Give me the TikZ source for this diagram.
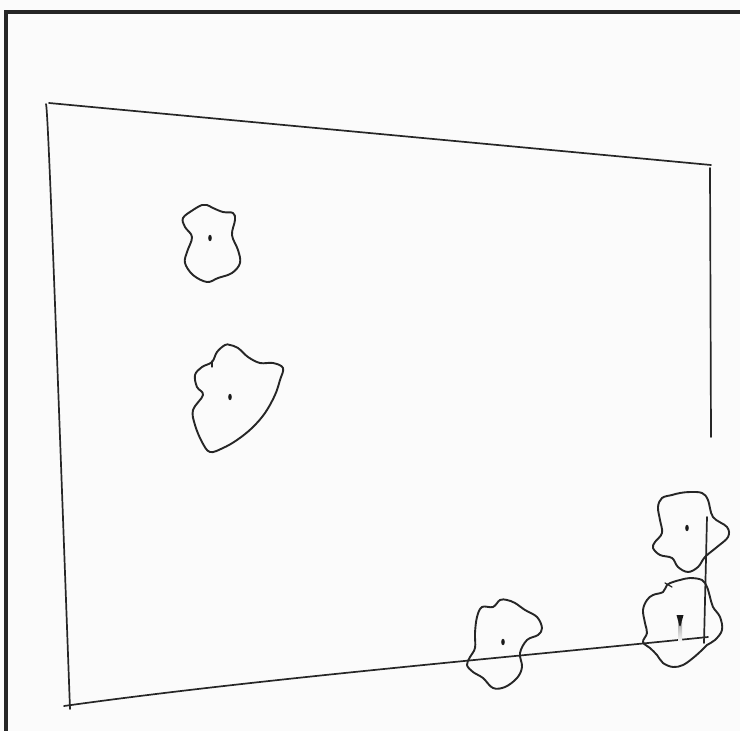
\documentclass[tikz,border=0pt]{standalone}
\usepackage{tikz}

\tikzset{
  pen/.style={line width=1.7pt, line cap=round, line join=round, black!85},
  blob/.style={pen, line width=1.9pt},
  pip/.style={fill=black!90, draw=none}
}

\begin{document}
\begin{tikzpicture}[x=1pt, y=-1pt]
% paper and scan edge
\fill[gray!3] (0,0) rectangle (740,731);
\useasboundingbox (0,0) rectangle (740,731);
\fill[black!85] (4,10) rectangle (740,13.5);
\fill[black!85] (4,10) rectangle (7.5,731);
% outline of the sheet
\draw[pen] (46,104) .. controls (48,110) and (55,300) .. (70,709);
\draw[pen] (49,103) -- (711,165);
\draw[pen] (710,168) -- (711,437);
\draw[pen] (64,706) .. controls (250,680) and (480,660) .. (708,637);
\draw[pen] (707,517) -- (704,643);
% blobs
\draw[blob] plot[smooth cycle, tension=0.6] coordinates {
  (202,205) (193,210) (183,218) (185,227) (192,237) (187,252) (185,263)
  (193,275) (207,282) (218,278) (232,273) (240,263) (238,250) (232,235)
  (235,220) (233,213) (223,212) (213,208) (207,205)};
\draw[blob] plot[smooth cycle, tension=0.6] coordinates {
  (225,345) (217,352) (212,362) (202,367) (195,375) (197,387) (203,395)
  (193,410) (195,425) (202,442) (210,452) (223,448) (237,440) (252,428)
  (265,413) (275,395) (280,380) (283,368) (273,363) (260,363) (248,357)
  (238,348) (230,345)};
\draw[pen, line width=1.2pt] (212,361) -- (212,367);
\draw[blob] plot[smooth cycle, tension=0.6] coordinates {
  (500,600) (493,607) (482,607) (477,617) (475,633) (475,648) (470,657)
  (467,665) (473,672) (483,678) (493,688) (505,687) (517,678) (522,667)
  (520,653) (527,640) (538,635) (542,628) (537,617) (525,610) (515,603)
  (507,600)};
\draw[blob] plot[smooth cycle, tension=0.6] coordinates {
  (672,495) (662,498) (658,507) (660,520) (662,533) (655,542) (653,548)
  (660,555) (672,558) (678,567) (688,572) (698,567) (705,557) (717,547)
  (728,537) (727,527) (713,517) (708,500) (702,493) (690,492) (680,493)};
\draw[blob] plot[smooth cycle, tension=0.6] coordinates {
  (673,582) (667,585) (663,592) (653,595) (647,600) (643,610) (645,623)
  (647,633) (643,642) (650,648) (657,655) (663,663) (673,667) (683,665)
  (693,658) (702,650) (707,645) (715,640) (722,630) (720,617) (713,607)
  (710,597) (707,587) (702,580) (690,578) (680,580)};
\draw[pen, line width=1.2pt] (665,583) -- (672,587);
% centre marks
\foreach \cx/\cy in {210/238, 230/397, 503/642, 687/528}
  \fill[pip] (\cx,\cy) ellipse (1.8 and 3.2);
\shade[top color=black!35, bottom color=gray!3] (678,622) rectangle (682,642);
\fill[pip] (676.5,615) -- (683.5,615) -- (680.5,626) -- (679.5,626) -- cycle;
\end{tikzpicture}
\end{document}
